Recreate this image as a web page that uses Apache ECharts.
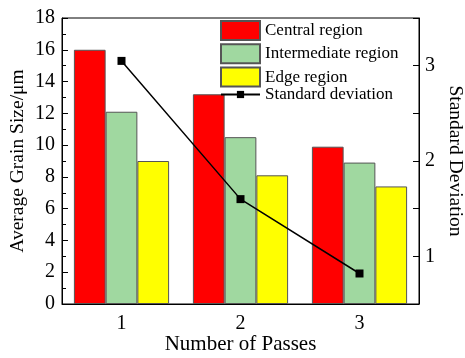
<!DOCTYPE html>
<html>
<head>
<meta charset="utf-8">
<script src="https://cdn.jsdelivr.net/npm/echarts@6/dist/echarts.min.js"></script>
<style>html,body{margin:0;padding:0;background:#fff}#c{width:465px;height:358px}</style>
</head>
<body>
<div id="c"></div>
<script>
var categories = ['1', '2', '3'];
var central = [16.0, 13.2, 9.9];
var intermediate = [12.1, 10.5, 8.9];
var edge = [9.0, 8.1, 7.4];
var stdDev = [3.05, 1.60, 0.82];

var FONT = 'Liberation Serif';
var chart = echarts.init(document.getElementById('c'), null, {renderer: 'canvas'});
var barBorder = {borderColor: '#555', borderWidth: 1};
chart.setOption({
  animation: false,
  textStyle: {fontFamily: FONT},
  grid: {left: 62, right: 46, top: 18, bottom: 54, outerBoundsMode: 'none', containLabel: false,
    show: true, borderColor: '#000', borderWidth: 1, backgroundColor: 'transparent'},
  legend: [{
    orient: 'vertical', left: 220, top: 20, padding: 0, itemWidth: 39, itemHeight: 19, itemGap: 2.3,
    textStyle: {fontFamily: FONT, fontSize: 17, color: '#000'},
    data: [
      {name: 'Central region', icon: 'rect'},
      {name: 'Intermediate region', icon: 'rect'},
      {name: 'Edge region', icon: 'rect'}
    ]
  }, {
    orient: 'vertical', left: 220, top: 86, padding: 0, itemWidth: 39, itemHeight: 9,
    textStyle: {fontFamily: FONT, fontSize: 17, color: '#000'},
    data: ['Standard deviation']
  }],
  xAxis: {
    type: 'category', data: categories,
    name: 'Number of Passes', nameLocation: 'middle', nameGap: 30, nameMoveOverlap: false,
    nameTextStyle: {fontFamily: FONT, fontSize: 21, color: '#000'},
    axisLine: {lineStyle: {color: '#000', width: 1}},
    axisTick: {show: false},
    axisLabel: {fontFamily: FONT, fontSize: 20, color: '#000', margin: 10}
  },
  yAxis: [{
    type: 'value', min: 0, max: 18, interval: 2,
    name: 'Average Grain Size/\u03bcm', nameLocation: 'middle', nameGap: 34, nameMoveOverlap: false,
    nameTextStyle: {fontFamily: FONT, fontSize: 19.5, color: '#000'},
    axisLine: {show: true, lineStyle: {color: '#000', width: 1}},
    axisTick: {show: true, inside: true, length: 6, lineStyle: {color: '#000'}},
    minorTick: {show: true, splitNumber: 2, length: 4, lineStyle: {color: '#000'}},
    splitLine: {show: false},
    axisLabel: {fontFamily: FONT, fontSize: 20, color: '#000', margin: 7}
  }, {
    type: 'value', min: 0.5, max: 3.5, interval: 0.5, position: 'right',
    name: 'Standard Deviation', nameLocation: 'middle', nameGap: 26, nameRotate: -90, nameMoveOverlap: false,
    nameTextStyle: {fontFamily: FONT, fontSize: 19.5, color: '#000'},
    axisLine: {show: true, lineStyle: {color: '#000', width: 1}},
    axisTick: {show: true, inside: true, length: 6, lineStyle: {color: '#000'}},
    splitLine: {show: false},
    axisLabel: {fontFamily: FONT, fontSize: 20, color: '#000', margin: 6,
      formatter: function (v) { return (Math.abs(v - Math.round(v)) < 1e-6 && v > 0.6 && v < 3.4) ? String(Math.round(v)) : ''; }}
  }],
  series: [
    {name: 'Central region', type: 'bar', data: central, barGap: '0%', barCategoryGap: '20%', itemStyle: Object.assign({color: '#ff0000'}, barBorder)},
    {name: 'Intermediate region', type: 'bar', data: intermediate, itemStyle: Object.assign({color: '#a0d8a0'}, barBorder)},
    {name: 'Edge region', type: 'bar', data: edge, itemStyle: Object.assign({color: '#ffff00'}, barBorder)},
    {name: 'Standard deviation', type: 'line', yAxisIndex: 1, data: stdDev, symbol: 'rect', symbolSize: 8,
      lineStyle: {color: '#000', width: 1.5}, itemStyle: {color: '#000'}, z: 5}
  ]
});
</script>
</body>
</html>
